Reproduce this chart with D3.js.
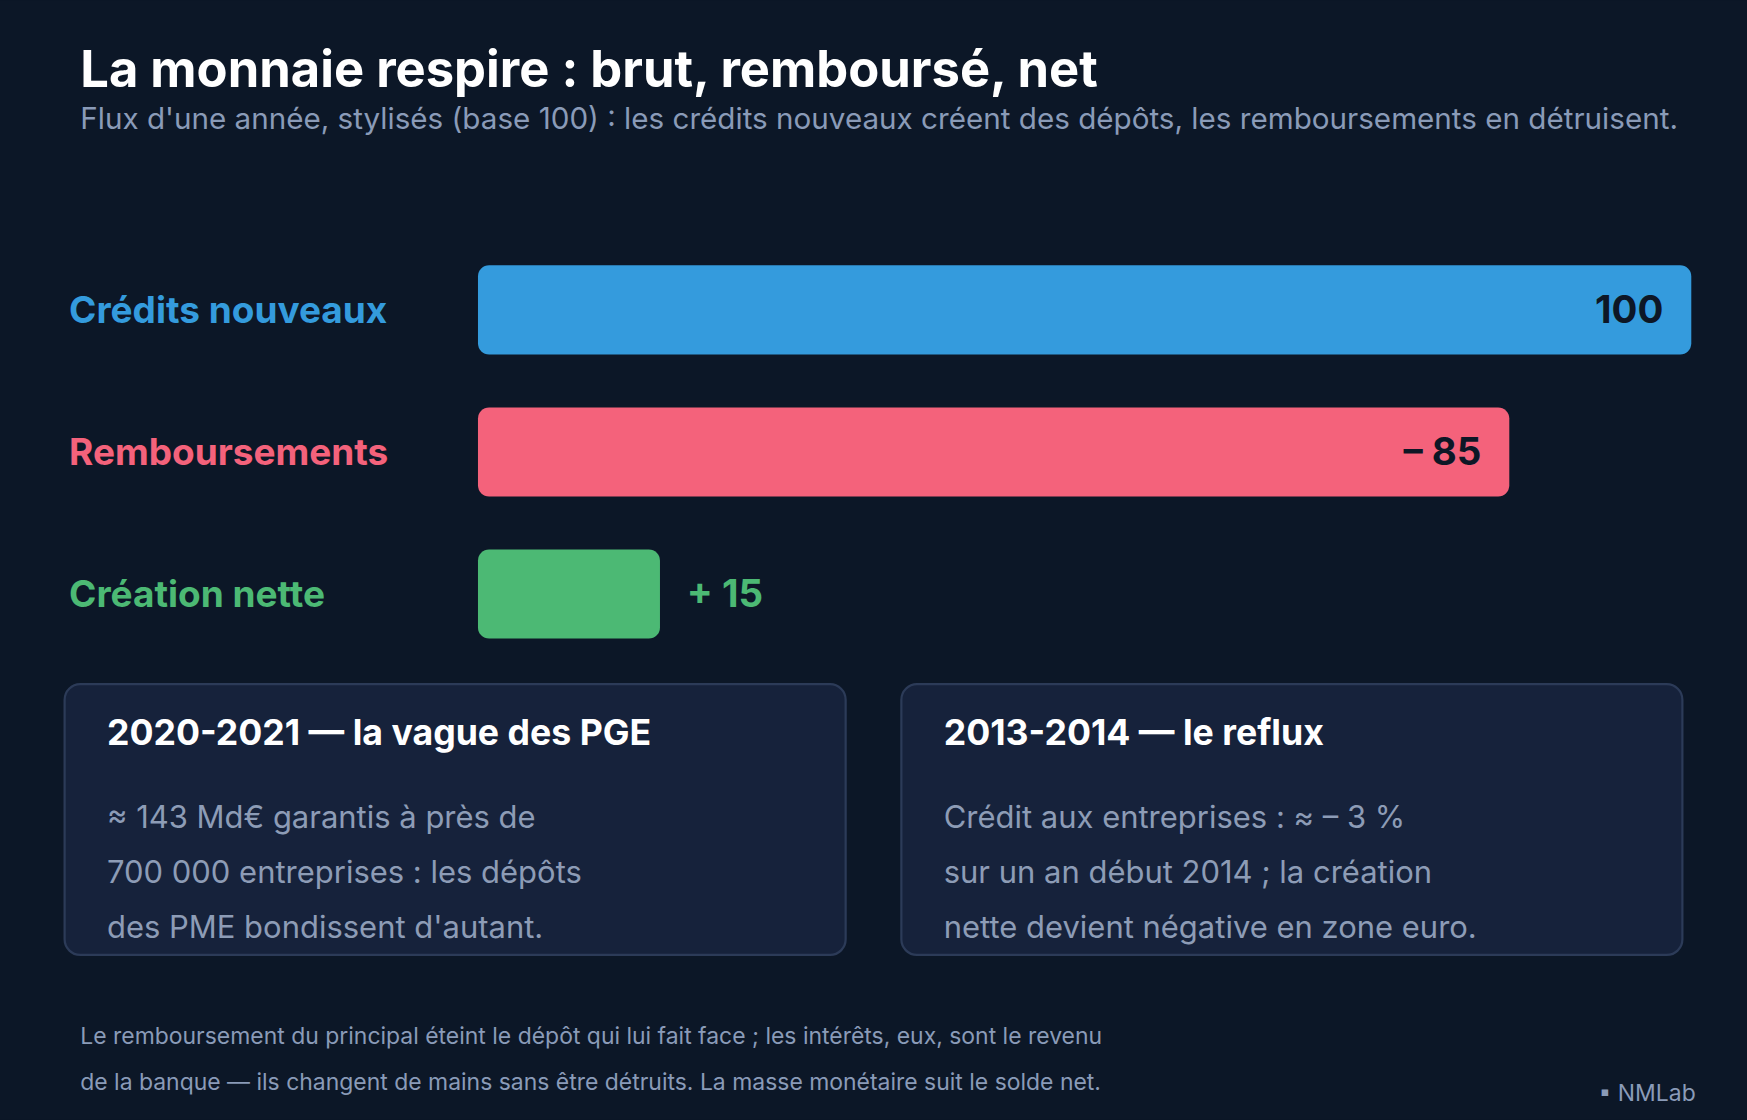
<!DOCTYPE html>
<html><head><meta charset="utf-8">
<script src="https://cdn.jsdelivr.net/npm/d3@7"></script>
<style>html,body{margin:0;padding:0;background:#0c1727;overflow:hidden}</style>
</head><body>
<script>
const categories = ["Crédits nouveaux", "Remboursements", "Création nette"];
const values = [100, 85, 15];
const valueLabels = ["100", "– 85", "+ 15"];
const colors = ["#349bdd", "#f4627b", "#4cb974"];
const cards = [
  {title: "2020-2021 — la vague des PGE", lines: ["≈ 143 Md€ garantis à près de", "700 000 entreprises : les dépôts", "des PME bondissent d'autant."]},
  {title: "2013-2014 — le reflux", lines: ["Crédit aux entreprises : ≈ – 3 %", "sur un an début 2014 ; la création", "nette devient négative en zone euro."]}
];
const footnote = ["Le remboursement du principal éteint le dépôt qui lui fait face ; les intérêts, eux, sont le revenu",
  "de la banque — ils changent de mains sans être détruits. La masse monétaire suit le solde net."];

const W = 1568, H = 1005;
const svg = d3.select("body").append("svg").attr("width", 1747).attr("height", 1120)
  .attr("viewBox", `0 0 ${W} ${H}`).style("font-family", "Inter, 'Noto Sans', sans-serif");
svg.append("rect").attr("width", W).attr("height", H).attr("fill", "#0c1727");

svg.append("text").attr("x", 72).attr("y", 78).attr("fill", "#ffffff").attr("font-size", 45.5).attr("font-weight", 700)
  .text("La monnaie respire : brut, remboursé, net");
svg.append("text").attr("x", 72).attr("y", 116).attr("fill", "#8a9bb8").attr("font-size", 26.6)
  .text("Flux d'une année, stylisés (base 100) : les crédits nouveaux créent des dépôts, les remboursements en détruisent.");

const x = d3.scaleLinear().domain([0, 100]).range([429, 1518]);
const y = d3.scaleBand().domain(categories).range([238, 573]).paddingInner(0.373).paddingOuter(0);

const g = svg.append("g");
categories.forEach((c, i) => {
  const yc = y(c) + y.bandwidth() / 2;
  g.append("rect").attr("x", x(0)).attr("y", y(c)).attr("width", x(values[i]) - x(0)).attr("height", y.bandwidth())
    .attr("rx", 10).attr("fill", colors[i]);
  g.append("text").attr("x", 62).attr("y", yc).attr("dy", "0.35em").attr("fill", colors[i])
    .attr("font-size", 33.2).attr("font-weight", 700).text(c);
  const inside = values[i] > 30;
  g.append("text").attr("x", inside ? x(values[i]) - 25 : x(values[i]) + 24).attr("y", yc).attr("dy", "0.35em")
    .attr("text-anchor", inside ? "end" : "start").attr("fill", inside ? "#0d1726" : colors[i])
    .attr("font-size", 34.5).attr("font-weight", 700).text(valueLabels[i]);
});

const cardX = [58, 809];
cards.forEach((cd, i) => {
  const cx = cardX[i];
  svg.append("rect").attr("x", cx).attr("y", 614).attr("width", 701).attr("height", 243).attr("rx", 14)
    .attr("fill", "#16223b").attr("stroke", "#2c3b58").attr("stroke-width", 2);
  svg.append("text").attr("x", cx + 38).attr("y", 669).attr("fill", "#ffffff").attr("font-size", 32).attr("font-weight", 700).text(cd.title);
  cd.lines.forEach((l, j) => svg.append("text").attr("x", cx + 38).attr("y", 743 + j * 49.5)
    .attr("fill", "#8d9cb6").attr("font-size", 27.8).text(l));
});

footnote.forEach((l, j) => svg.append("text").attr("x", 72).attr("y", 937 + j * 41).attr("fill", "#8a9bb8").attr("font-size", 20.6).text(l));
svg.append("text").attr("x", 1522).attr("y", 988).attr("text-anchor", "end").attr("fill", "#8a9bb8").attr("font-size", 20.6).text("▪ NMLab");
</script>
</body></html>
